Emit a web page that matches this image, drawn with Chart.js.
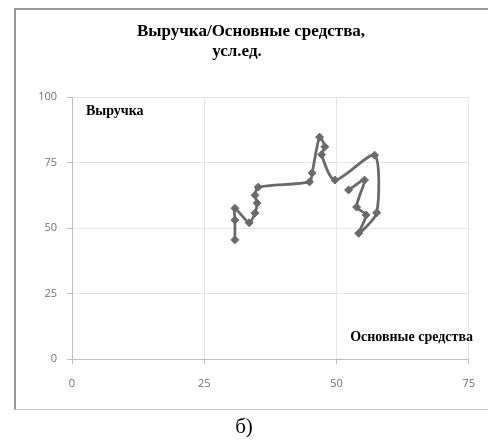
<!DOCTYPE html>
<html>
<head>
<meta charset="utf-8">
<script src="https://cdn.jsdelivr.net/npm/chart.js@4"></script>
<style>
  html, body { margin:0; padding:0; background:#fff; }
  #wrap { position:relative; width:488px; height:441px; }
  #frame { position:absolute; left:14px; top:8px; width:480px; height:402px;
           border-top:2px solid #9a9a9a; border-left:2px solid #9a9a9a; border-bottom:1px solid #c8c8c8; box-sizing:border-box; }
  #cap { position:absolute; left:0; width:488px; top:414px; text-align:center;
         font-family:"Liberation Serif", serif; font-size:21px; color:#000; }
  canvas { position:absolute; left:0; top:0; }
</style>
</head>
<body>
<div id="wrap">
  <div id="frame"></div>
  <canvas id="c" width="488" height="441"></canvas>
  <div id="cap">б)</div>
</div>
<script>
const titleLines = ["Выручка/Основные средства,", "усл.ед."];
const yAxisLabel = "Выручка";
const xAxisLabel = "Основные средства";
const xTicks = [0, 25, 50, 75];
const yTicks = [0, 25, 50, 75, 100];
// Основные средства (x) and Выручка (y)
const fixedAssets = [30.8, 30.8, 30.8, 33.5, 34.6, 35.0, 34.6, 35.2, 44.9, 45.4, 46.8, 47.8, 47.2, 49.7, 57.2, 57.6, 54.2, 55.6, 53.8, 55.3, 52.3];
const revenue     = [45.5, 53.0, 57.5, 52.0, 55.7, 59.5, 62.5, 65.6, 67.6, 71.0, 84.7, 81.0, 78.0, 68.3, 77.8, 55.8, 48.0, 55.0, 58.0, 68.3, 64.5];

const points = fixedAssets.map((x, i) => ({x: x, y: revenue[i]}));

const textPlugin = {
  id: 'texts',
  afterDraw(chart) {
    const ctx = chart.ctx;
    ctx.save();
    ctx.fillStyle = '#000';
    ctx.textAlign = 'center';
    ctx.textBaseline = 'middle';
    ctx.font = 'bold 17px "Liberation Serif", serif';
    ctx.fillText(titleLines[0], 251, 32);
    ctx.fillText(titleLines[1], 237, 52);
    ctx.font = 'bold 14px "Liberation Serif", serif';
    ctx.textAlign = 'left';
    ctx.fillText(yAxisLabel, 86, 111);
    ctx.textAlign = 'right';
    ctx.fillText(xAxisLabel, 473, 337);
    ctx.restore();
  }
};

new Chart(document.getElementById('c'), {
  type: 'scatter',
  data: {
    datasets: [{
      data: points,
      showLine: true,
      borderColor: '#6a6a6a',
      backgroundColor: '#6a6a6a',
      borderWidth: 2.8,
      tension: 0.25,
      pointStyle: 'rectRot',
      pointRadius: 4,
      pointBorderWidth: 1,
      pointBorderColor: '#6a6a6a'
    }]
  },
  options: {
    responsive: false,
    animation: false,
    devicePixelRatio: 1,
    layout: { padding: { left: 30, right: 16, top: 97, bottom: 52 } },
    plugins: { legend: { display: false }, tooltip: { enabled: false }, title: { display: false } },
    scales: {
      x: {
        type: 'linear', min: 0, max: 75,
        afterBuildTicks: s => { s.ticks = xTicks.map(v => ({value: v})); },
        afterFit: s => { s.height = 30; },
        ticks: { color: '#707070', font: { family: '"Open Sans", "DejaVu Sans", sans-serif', size: 11 }, padding: 13, maxRotation: 0 },
        grid: { color: '#e6e6e6', lineWidth: 1, tickLength: 5, tickColor: '#c0c0c0' },
        border: { color: '#c0c0c0', width: 1 }
      },
      y: {
        type: 'linear', min: 0, max: 100,
        afterBuildTicks: s => { s.ticks = yTicks.map(v => ({value: v})); },
        afterFit: s => { s.width = 42; },
        ticks: { color: '#707070', font: { family: '"Open Sans", "DejaVu Sans", sans-serif', size: 11 }, padding: 10 },
        grid: { color: '#e6e6e6', lineWidth: 1, tickLength: 5, tickColor: '#c0c0c0' },
        border: { color: '#c0c0c0', width: 1 }
      }
    }
  },
  plugins: [textPlugin]
});
</script>
</body>
</html>
